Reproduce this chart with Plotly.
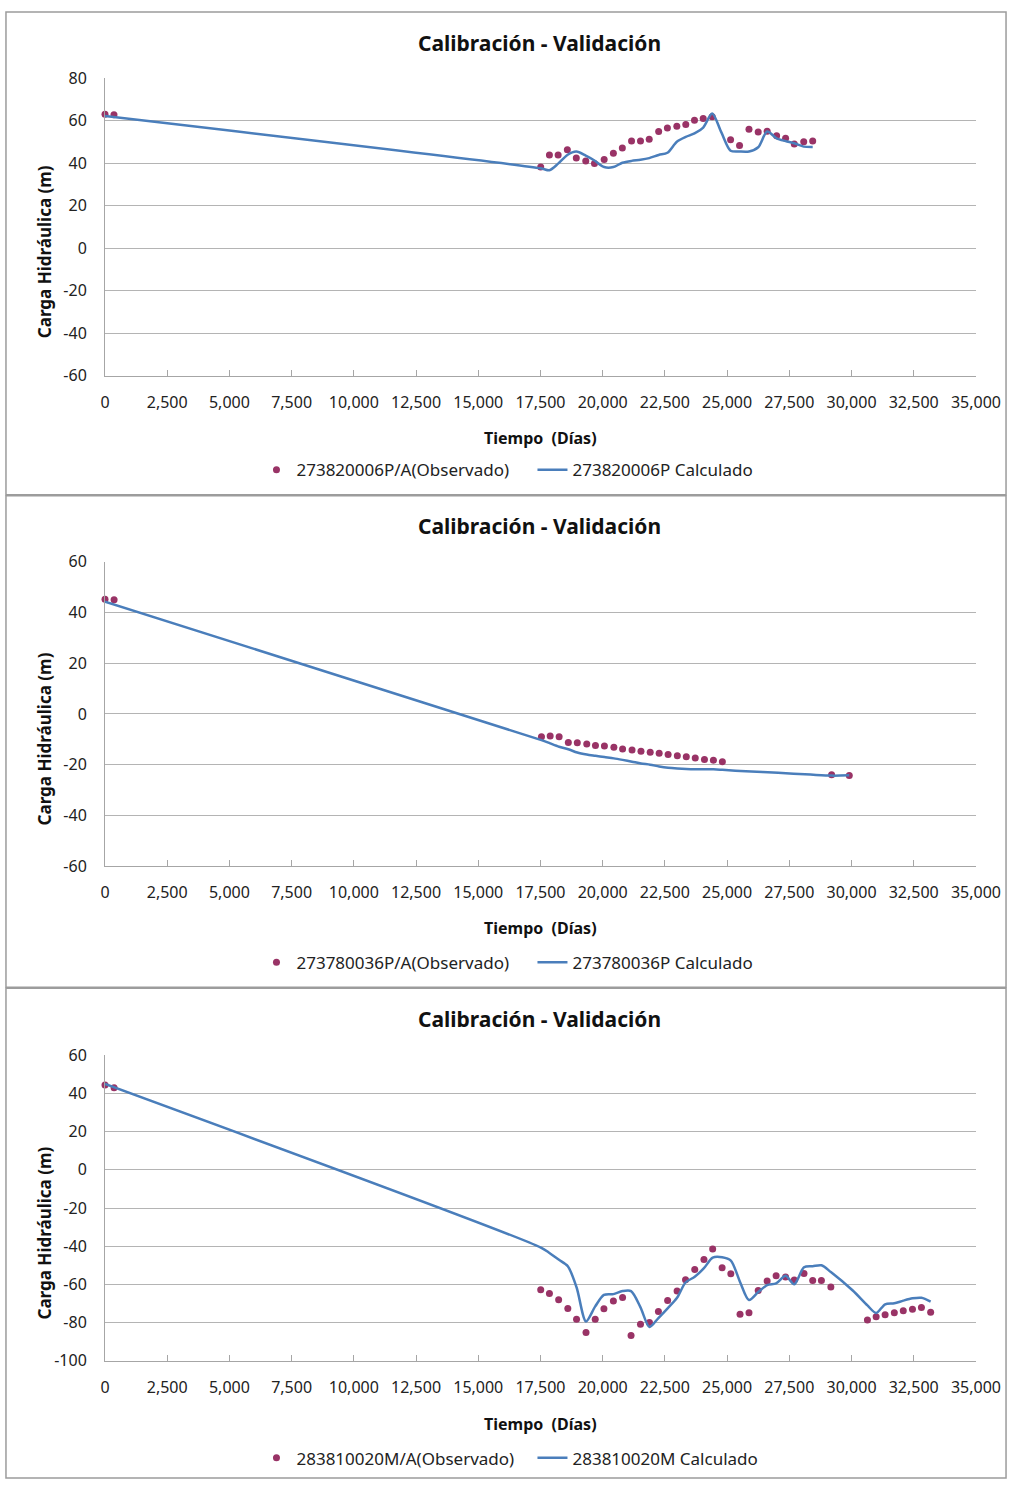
import plotly.graph_objects as go

W, H = 1032, 1490

# ---------------- data ----------------
title_text = "Calibración - Validación"
x_title = "Tiempo\u00a0 (Días)"
y_title = "Carga Hidráulica (m)"

x_ticks = [0, 2500, 5000, 7500, 10000, 12500, 15000, 17500, 20000, 22500, 25000,
           27500, 30000, 32500, 35000]
x_tick_labels = ["0", "2,500", "5,000", "7,500", "10,000", "12,500", "15,000", "17,500",
                 "20,000", "22,500", "25,000", "27,500", "30,000", "32,500", "35,000"]
y_ticks1 = [-60, -40, -20, 0, 20, 40, 60, 80]
y_labels1 = ["-60", "-40", "-20", "0", "20", "40", "60", "80"]
y_ticks2 = [-60, -40, -20, 0, 20, 40, 60]
y_labels2 = ["-60", "-40", "-20", "0", "20", "40", "60"]
y_ticks3 = [-100, -80, -60, -40, -20, 0, 20, 40, 60]
y_labels3 = ["-100", "-80", "-60", "-40", "-20", "0", "20", "40", "60"]

# Panel 1 : 273820006P
obs1_name = "273820006P/A(Observado)"
calc1_name = "273820006P Calculado"
obs1_x = [0, 360, 17510, 17860, 18210, 18580, 18940, 19320, 19670, 20060, 20430, 20790,
          21160, 21520, 21870, 22250, 22600, 22980, 23340, 23690, 24040, 24400,
          25140, 25500, 25880, 26250, 26610, 26990, 27350, 27700, 28080, 28440]
obs1_y = [63.0, 62.7, 38.1, 43.8, 43.8, 46.2, 42.3, 41.0, 39.8, 41.7, 44.6, 47.1,
          50.3, 50.3, 51.2, 54.8, 56.5, 57.3, 58.1, 60.1, 60.9, 61.8,
          50.9, 48.2, 55.9, 54.6, 55.0, 52.8, 51.6, 48.9, 50.0, 50.3]
calc1_x = [0, 17510, 17860, 18210, 18580, 18940, 19320, 19670, 20060, 20430, 20790,
           21160, 21520, 21870, 22250, 22600, 22980, 23340, 23690, 24040, 24400, 24770,
           25140, 25500, 25880, 26250, 26610, 26990, 27350, 27700, 28080, 28440]
calc1_y = [62.1, 37.5, 36.6, 39.7, 43.8, 45.4, 43.5, 41.2, 38.1, 38.1, 40.1,
           41.0, 41.5, 42.3, 43.8, 44.8, 50.0, 52.3, 53.9, 56.7, 63.3, 54.4,
           45.8, 45.4, 45.4, 47.4, 54.8, 51.6, 50.3, 49.3, 47.7, 47.5]

# Panel 2 : 273780036P
obs2_name = "273780036P/A(Observado)"
calc2_name = "273780036P Calculado"
obs2_x = [0, 365, 17540, 17890, 18250, 18620, 18980, 19360, 19710, 20070, 20450, 20800,
          21180, 21540, 21910, 22270, 22630, 23000, 23360, 23720, 24090, 24450, 24810,
          29200, 29910]
obs2_y = [45.2, 45.0, -9.0, -8.7, -9.0, -11.2, -11.3, -11.8, -12.4, -12.6, -13.1, -13.8,
          -14.2, -14.7, -15.1, -15.5, -16.0, -16.5, -16.9, -17.4, -17.9, -18.2, -18.8,
          -24.0, -24.3]
calc2_x = [0, 17540, 17890, 18250, 18620, 18980, 19360, 19710, 20070, 20450, 20800,
           21180, 21540, 21910, 22270, 22630, 23000, 23360, 23720, 24090, 24450, 24810,
           25750, 27050, 28350, 29200, 29910]
calc2_y = [44.3, -10.3, -11.6, -12.9, -13.9, -15.2, -16.0, -16.5, -17.0, -17.5, -18.1,
           -18.8, -19.5, -20.0, -20.7, -21.2, -21.5, -21.7, -21.8, -21.8, -21.8, -22.0,
           -22.6, -23.2, -23.9, -24.3, -24.2]

# Panel 3 : 283810020M
obs3_name = "283810020M/A(Observado)"
calc3_name = "283810020M Calculado"
obs3_x = [0, 365, 17510, 17860, 18230, 18600, 18950, 19330, 19700, 20050, 20430, 20800,
          21140, 21520, 21880, 22240, 22610, 22990, 23330, 23700, 24070, 24420, 24800,
          25150, 25520, 25880, 26250, 26610, 26970, 27350, 27700, 28090, 28440, 28790,
          29170, 30640, 30990, 31350, 31720, 32080, 32450, 32810, 33180]
obs3_y = [44.5, 43.0, -62.8, -64.7, -68.0, -72.6, -78.3, -85.2, -78.3, -72.8, -68.7, -66.8,
          -86.8, -80.9, -80.0, -74.2, -68.4, -63.4, -57.5, -52.2, -47.0, -41.5, -51.3,
          -54.4, -75.6, -74.9, -63.2, -58.2, -55.5, -56.1, -57.7, -54.3, -58.0, -58.0,
          -61.3, -78.7, -77.0, -75.9, -74.9, -73.8, -73.0, -72.1, -74.6]
calc3_x = [0, 17500, 17860, 18230, 18600, 18950, 19330, 19700, 20050, 20430, 20800,
           21140, 21520, 21880, 22240, 22610, 22990, 23330, 23700, 24070, 24420, 24800,
           25150, 25520, 25880, 26250, 26610, 26970, 27350, 27700, 28090, 28440, 28790,
           29170, 30050, 30640, 30990, 31350, 31720, 32080, 32450, 32810, 33180]
calc3_y = [45.0, -40.6, -43.5, -47.0, -50.5, -61.5, -79.4, -71.5, -65.5, -65.1, -63.5,
           -63.5, -72.0, -82.3, -77.6, -72.5, -67.0, -59.0, -56.0, -51.5, -46.0, -45.8,
           -47.5, -58.7, -68.2, -64.0, -60.4, -59.5, -55.5, -59.9, -51.0, -50.5, -50.0,
           -53.5, -63.2, -71.0, -75.0, -70.4, -69.9, -68.5, -67.3, -67.0, -69.0]

y_ranges = [[-60, 80], [-60, 60], [-100, 60]]

# ---------------- layout helpers (pixels -> paper) ----------------
def fx(p):
    return p / W


def fy(p):
    return 1 - p / H


FONT = "Noto Sans"
GRID = "#b4b4b4"
AXIS = "#a6a6a6"
OBS_COLOR = "#993366"
CALC_COLOR = "#4a7ebb"

panels = [
    dict(ox=obs1_x, oy=obs1_y, cx=calc1_x, cy=calc1_y, on=obs1_name, cn=calc1_name,
         yt=y_ticks1, yl=y_labels1,
         top=68, bot=370, title=32, xt=433, leg=466, box=(1, 491)),
    dict(ox=obs2_x, oy=obs2_y, cx=calc2_x, cy=calc2_y, on=obs2_name, cn=calc2_name,
         yt=y_ticks2, yl=y_labels2,
         top=559, bot=868, title=523, xt=931, leg=966, box=(492, 991)),
    dict(ox=obs3_x, oy=obs3_y, cx=calc3_x, cy=calc3_y, on=obs3_name, cn=calc3_name,
         yt=y_ticks3, yl=y_labels3,
         top=1060, bot=1370, title=1023, xt=1434, leg=1469, box=(992, 1489)),
]

fig = go.Figure()
layout = dict(
    width=W, height=H,
    margin=dict(l=0, r=0, t=0, b=0),
    paper_bgcolor="white", plot_bgcolor="white",
    font=dict(family=FONT, size=16, color="#222222"),
    annotations=[], shapes=[],
)

x_left, x_right = 103, 1000

for i, p in enumerate(panels, start=1):
    sfx = "" if i == 1 else str(i)
    leg = "legend" if i == 1 else f"legend{i}"
    fig.add_trace(go.Scatter(
        x=p["ox"], y=p["oy"], mode="markers", name=p["on"],
        marker=dict(color=OBS_COLOR, size=7), cliponaxis=False,
        xaxis=f"x{sfx}", yaxis=f"y{sfx}", legend=leg,
    ))
    fig.add_trace(go.Scatter(
        x=p["cx"], y=p["cy"], mode="lines", name=p["cn"],
        line=dict(color=CALC_COLOR, width=2.5, shape="spline", smoothing=0.8),
        xaxis=f"x{sfx}", yaxis=f"y{sfx}", legend=leg,
    ))
    layout[f"xaxis{sfx}"] = dict(
        domain=[fx(x_left), fx(x_right)], anchor=f"y{sfx}",
        range=[0, 35000], tickmode="array", tickvals=x_ticks, ticktext=x_tick_labels,
        ticks="inside", ticklen=6, tickcolor=AXIS,
        showgrid=False, zeroline=False,
        showline=True, linecolor=AXIS, linewidth=1,
        ticklabelstandoff=12,
        tickfont=dict(family=FONT, size=16, color="#222222"),
        fixedrange=True,
    )
    layout[f"yaxis{sfx}"] = dict(
        domain=[fy(p["bot"]), fy(p["top"])], anchor=f"x{sfx}",
        range=y_ranges[i - 1], tickmode="array", tickvals=p["yt"], ticktext=p["yl"],
        showgrid=True, gridcolor=GRID, gridwidth=1, zeroline=False,
        showline=True, linecolor=AXIS, linewidth=1, ticks="",
        ticklabelstandoff=14,
        tickfont=dict(family=FONT, size=16, color="#222222"),
        fixedrange=True,
    )
    layout[leg] = dict(
        orientation="h", x=fx(259), xanchor="left", y=fy(p["leg"]), yanchor="middle",
        font=dict(family=FONT, size=17, color="#222222"),
        bgcolor="rgba(0,0,0,0)", entrywidth=231, entrywidthmode="pixels",
    )
    layout["annotations"] += [
        dict(text=f"<b>{title_text}</b>", x=fx(551), y=fy(p["title"]), xref="paper",
             yref="paper", showarrow=False, xanchor="center", yanchor="middle",
             font=dict(family=FONT, size=21, color="#111111")),
        dict(text=f"<b>{x_title}</b>", x=fx(552), y=fy(p["xt"]), xref="paper",
             yref="paper", showarrow=False, xanchor="center", yanchor="middle",
             font=dict(family=FONT, size=16, color="#111111")),
        dict(text=f"<b>{y_title}</b>", x=fx(41), y=fy((p["top"] + p["bot"]) / 2 + 25),
             xref="paper", yref="paper", showarrow=False, textangle=-90,
             xanchor="center", yanchor="middle",
             font=dict(family=FONT, size=17, color="#111111")),
    ]
    b0, b1 = p["box"]
    layout["shapes"].append(dict(
        type="rect", xref="paper", yref="paper",
        x0=fx(1), x1=fx(W - 1), y0=fy(b1), y1=fy(b0),
        line=dict(color="#9c9c9c", width=1.5), layer="below",
    ))

fig.update_layout(**layout)
fig.write_html(
    "out.html",
    config={"displayModeBar": False},
    post_script="document.body.style.margin='0px';document.body.style.overflow='hidden';",
)
